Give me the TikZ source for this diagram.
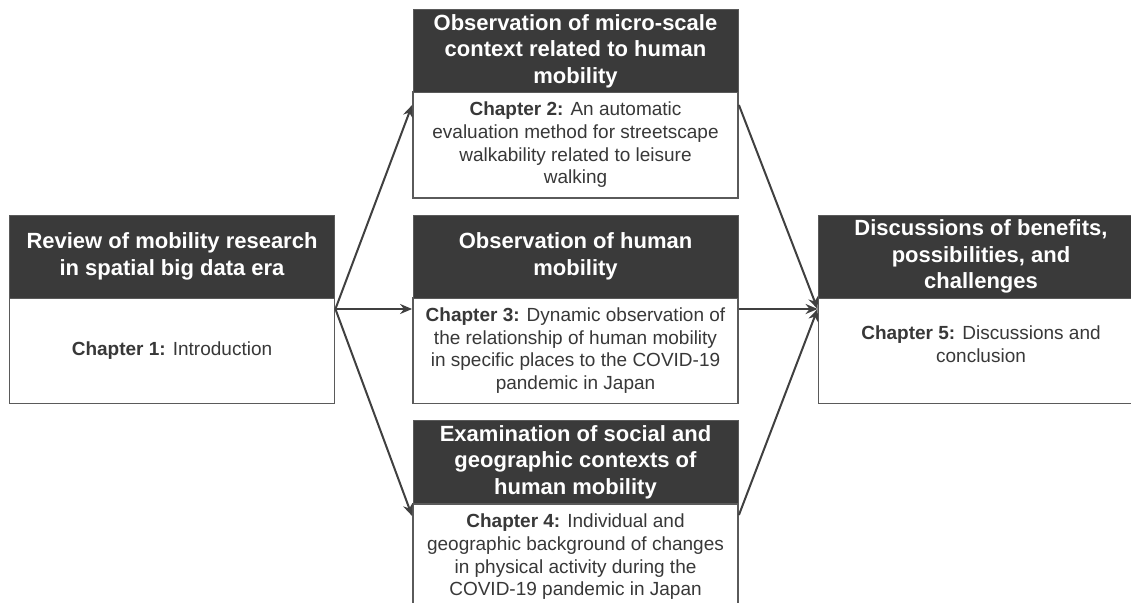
\documentclass[tikz,border=0pt]{standalone}
\usepackage{fontspec}
\setmainfont{Liberation Sans}
\usetikzlibrary{arrows.meta}
\definecolor{hdrfill}{HTML}{3A3A3A}
\definecolor{edge}{HTML}{5A5A5A}
\definecolor{ink}{HTML}{383838}
\definecolor{wire}{HTML}{404040}
\begin{document}
\begin{tikzpicture}[x=1pt,y=-1pt,
  hdr/.style={fill=hdrfill, draw=edge, line width=1pt, text=white, align=center,
    inner sep=0pt, minimum width=325pt, minimum height=83pt,
    font=\fontsize{22}{26.5}\selectfont\bfseries},
  body/.style={fill=white, draw=edge, line width=1.8pt, text=ink, align=center,
    inner sep=0pt, minimum width=325pt, minimum height=106pt,
    font=\fontsize{19}{22.7}\selectfont},
  label/.style={text=ink, align=center, inner sep=0pt,
    font=\fontsize{19}{22.7}\selectfont},
  conn/.style={draw=wire, line width=2pt, -{Stealth[length=12pt,width=10pt]}},
]
\useasboundingbox (0,0) rectangle (1131,602);

% chapter boxes: white body with a dark title bar on top
\node[body] (b1) at (172,350.5) {\textbf{Chapter 1:} Introduction};
\node[hdr]  (h1) at (172,256.5) {Review of mobility research\\in spatial big data era};

\node[body] (b2) at (575.5,145) {\textbf{Chapter 2:} An automatic\\evaluation method for streetscape\\walkability related to leisure\\walking};
\node[hdr]  (h2) at (575.5,51) {Observation of micro-scale\\context related to human\\mobility};

\node[body] (b3) at (575.5,350.5) {\textbf{Chapter 3:} Dynamic observation of\\the relationship of human mobility\\in specific places to the COVID-19\\pandemic in Japan};
\node[hdr]  (h3) at (575.5,256.5) {Observation of human\\mobility};

\node[body] (b4) at (575.5,557) {\textbf{Chapter 4:} Individual and\\geographic background of changes\\in physical activity during the\\COVID-19 pandemic in Japan};
\node[hdr]  (h4) at (575.5,462) {Examination of social and\\geographic contexts of\\human mobility};

\node[body] (b5) at (981,350.5) {};
\node[label] (t5) at (981,344) {\textbf{Chapter 5:} Discussions and\\conclusion};
\node[hdr]  (h5) at (981,256.5) {Discussions of benefits,\\possibilities, and\\challenges};

% connector end points on the box sides
\coordinate (src) at (b1.east |- 0,309);
\coordinate (in2) at (b2.west |- 0,105);
\coordinate (in3) at (b3.west |- 0,309);
\coordinate (in4) at (b4.west |- 0,516);
\coordinate (out2) at (b2.east |- 0,105);
\coordinate (out3) at (b3.east |- 0,309);
\coordinate (out4) at (b4.east |- 0,515);
\coordinate (in5) at (b5.west |- 0,309);

\draw[conn] (src) -- (in2);
\draw[conn] (src) -- (in3);
\draw[conn] (src) -- (in4);
\draw[conn] (out2) -- (in5);
\draw[conn] (out3) -- (in5);
\draw[conn] (out4) -- (in5);
\end{tikzpicture}
\end{document}
